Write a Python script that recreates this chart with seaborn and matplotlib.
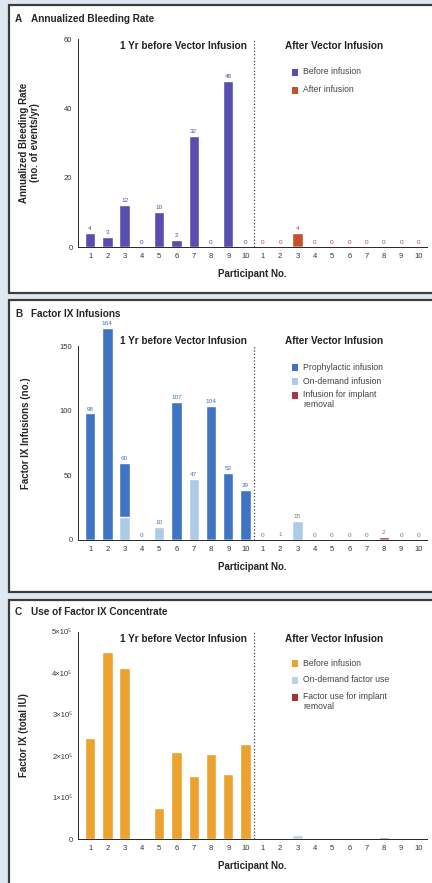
import numpy as np
import matplotlib
matplotlib.use('Agg')
from matplotlib import pyplot as plt
from matplotlib.patches import Rectangle
import seaborn as sns

# participant numbers (1-10 before and after vector infusion)
participants = [str(i) for i in range(1, 11)]
slots = [f'b{p}' for p in participants] + [f'a{p}' for p in participants]

# A: annualized bleeding rate
abr_before = [4, 3, 12, 0, 10, 2, 32, 0, 48, 0]
abr_after = [0, 0, 4, 0, 0, 0, 0, 0, 0, 0]

# B: factor IX infusions (no.)
inf_prophylactic = [98, 164, 42, 0, 0, 107, 0, 104, 52, 39]
inf_on_demand = [0, 0, 18, 0, 10, 0, 47, 0, 0, 0]
inf_after_on_demand = [0, 1, 15, 0, 0, 0, 0, 0, 0, 0]
inf_after_removal = [0, 0, 0, 0, 0, 0, 0, 2, 0, 0]

# C: factor IX concentrate used (total IU)
iu_before = [245000, 452000, 413000, 0, 75000, 210000, 153000, 205000, 157000, 230000]
iu_after_on_demand = [0, 0, 9000, 0, 0, 0, 0, 0, 0, 0]
iu_after_removal = [0, 0, 0, 0, 0, 0, 0, 4000, 0, 0]

PURPLE = '#5a4db0'
RED_A = '#c4502c'
BLUE = '#3f74c2'
LIGHT = '#aecbe6'
RED = '#a8364a'
ORANGE = '#eca22e'
LIGHT_C = '#b8d4e8'
RED_C = '#a83030'

W, H = 432, 883


def fx(x):
    return x / W


def fy(y):
    return 1 - y / H


def stacked(ax, layers):
    """layers: list of (values over 20 slots, colour), bottom to top."""
    cum = np.cumsum([np.asarray(v, dtype=float) for v, _ in layers], axis=0)
    for k in range(len(layers) - 1, -1, -1):
        sns.barplot(x=slots, y=cum[k], order=slots, color=layers[k][1],
                    width=0.6, saturation=1, ax=ax)
    return cum[-1]


def style_axes(ax, ymax, yticks, yticklabels, ylabel, label_x=-0.12):
    ax.set_ylim(0, ymax)
    ax.set_xlim(-0.7, 19.5)
    ax.patch.set_alpha(0)
    sns.despine(ax=ax)
    ax.spines['left'].set_bounds(0, yticks[-1])
    ax.spines['left'].set_linewidth(0.7)
    ax.spines['bottom'].set_linewidth(0.7)
    ax.set_yticks(yticks)
    ax.set_yticklabels(yticklabels)
    ax.set_xticks(range(20))
    ax.set_xticklabels(participants * 2)
    ax.tick_params(axis='x', direction='inout', length=3, width=0.6, labelsize=5.5, pad=2.5, colors='#333333')
    ax.tick_params(axis='y', length=2.5, width=0.6, labelsize=5.5, pad=1.5, colors='#333333')
    ax.set_xlabel('Participant No.', fontsize=7, fontweight='bold', labelpad=7)
    ax.set_ylabel(ylabel, fontsize=7, fontweight='bold', linespacing=1.1)
    ax.yaxis.set_label_coords(label_x, 0.5)
    ax.axvline(9.5, ymin=0, ymax=yticks[-1] / ymax, color='#444444', ls=':', lw=0.9)


def add_labels(ax, totals, texts, offset, colors):
    for i, (t, s) in enumerate(zip(totals, texts)):
        ax.text(i, t + offset, s, ha='center', va='bottom', fontsize=4.6, color=colors[i])


def legend_block(y_title, entries):
    fig.text(fx(285), fy(y_title), 'After Vector Infusion', fontsize=7.2, fontweight='bold',
             va='center', color='#222222')
    for y, color, label in entries:
        fig.patches.append(Rectangle((fx(292), fy(y) - 0.0045), 0.015, 0.0075,
                                     transform=fig.transFigure, facecolor=color,
                                     edgecolor='none', figure=fig))
        fig.text(fx(303), fy(y) + (0.006 if '\n' in label else 0), label, fontsize=6.2,
                 va='top' if '\n' in label else 'center', color='#444444', linespacing=1.25)


sns.set_style('white')
plt.rcParams['font.family'] = ['Liberation Sans', 'DejaVu Sans']

fig = plt.figure(figsize=(W / 100, H / 100), dpi=100)
fig.patch.set_facecolor('#dfe8f1')

# panel frames
for top, bottom in [(5, 293), (300, 592), (600, 890)]:
    fig.patches.append(Rectangle((fx(9), fy(bottom)), 1.0, fy(top) - fy(bottom),
                                 transform=fig.transFigure, facecolor='white',
                                 edgecolor='#3c3c3c', lw=1.6, figure=fig, zorder=-5))

# ---------------- A ----------------
axA = fig.add_axes([fx(78), fy(247), fx(427) - fx(78), fy(39) - fy(247)])
zeros = [0] * 10
totA = stacked(axA, [(abr_before + zeros, PURPLE), (zeros + abr_after, RED_A)])
style_axes(axA, 60, [0, 20, 40, 60], ['0', '20', '40', '60'],
           'Annualized Bleeding Rate\n(no. of events/yr)', label_x=-0.11)
add_labels(axA, totA, [str(v) for v in abr_before + abr_after], 0.6,
           [PURPLE] * 10 + ['#b04a4a'] * 10)
fig.text(fx(15), fy(19), 'A', fontsize=7.2, fontweight='bold', va='center')
fig.text(fx(31), fy(19), 'Annualized Bleeding Rate', fontsize=7.2, fontweight='bold', va='center')
fig.text(fx(247), fy(46), '1 Yr before Vector Infusion', fontsize=7.2, fontweight='bold',
         va='center', ha='right', color='#222222')
legend_block(46, [(72, PURPLE, 'Before infusion'), (90, RED_A, 'After infusion')])

# ---------------- B ----------------
axB = fig.add_axes([fx(78), fy(540), fx(427) - fx(78), fy(327) - fy(540)])
totB = stacked(axB, [(inf_on_demand + inf_after_on_demand, LIGHT),
                     (inf_prophylactic + zeros, BLUE),
                     (zeros + inf_after_removal, RED)])
style_axes(axB, 165, [0, 50, 100, 150], ['0', '50', '100', '150'],
           'Factor IX Infusions (no.)', label_x=-0.135)
add_labels(axB, totB, [str(int(v)) for v in totB], 1.5, [BLUE] * 10 + ['#7a7a7a'] * 10)
fig.text(fx(15), fy(314), 'B', fontsize=7.2, fontweight='bold', va='center')
fig.text(fx(31), fy(314), 'Factor IX Infusions', fontsize=7.2, fontweight='bold', va='center')
fig.text(fx(247), fy(341), '1 Yr before Vector Infusion', fontsize=7.2, fontweight='bold',
         va='center', ha='right', color='#222222')
legend_block(341, [(367, BLUE, 'Prophylactic infusion'), (381, LIGHT, 'On-demand infusion'),
                   (395, RED, 'Infusion for implant\nremoval')])

# ---------------- C ----------------
axC = fig.add_axes([fx(78), fy(839), fx(427) - fx(78), fy(632) - fy(839)])
stacked(axC, [(iu_before + zeros, ORANGE),
              (zeros + iu_after_on_demand, LIGHT_C),
              (zeros + iu_after_removal, RED_C)])
style_axes(axC, 500000, [0, 100000, 200000, 300000, 400000, 500000],
           ['0', '1×10⁵', '2×10⁵', '3×10⁵', '4×10⁵', '5×10⁵'],
           'Factor IX (total IU)', label_x=-0.14)
fig.text(fx(15), fy(612), 'C', fontsize=7.2, fontweight='bold', va='center')
fig.text(fx(31), fy(612), 'Use of Factor IX Concentrate', fontsize=7.2, fontweight='bold', va='center')
fig.text(fx(247), fy(639), '1 Yr before Vector Infusion', fontsize=7.2, fontweight='bold',
         va='center', ha='right', color='#222222')
legend_block(639, [(663, ORANGE, 'Before infusion'), (680, LIGHT_C, 'On-demand factor use'),
                   (697, RED_C, 'Factor use for implant\nremoval')])

fig.savefig('out.png', dpi=100, facecolor=fig.get_facecolor())
